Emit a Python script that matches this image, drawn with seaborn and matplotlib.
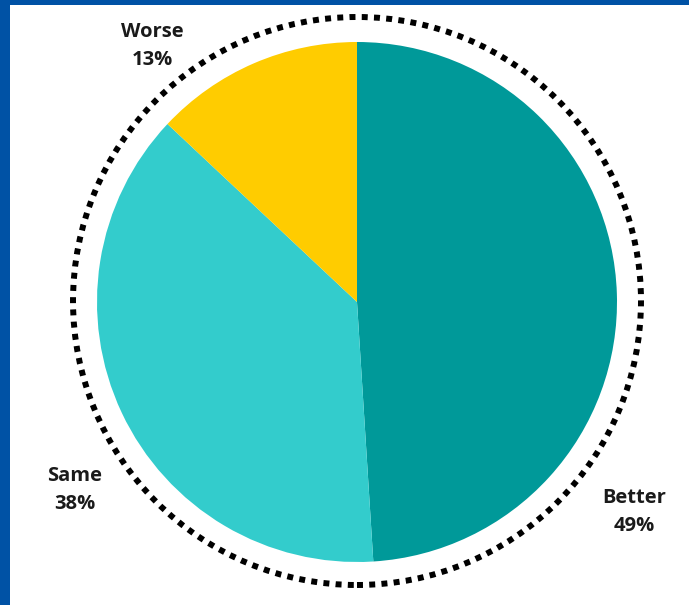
import matplotlib
matplotlib.use("Agg")
import matplotlib.pyplot as plt
import matplotlib.patches as mpatches
import seaborn as sns

labels = ["Better", "Same", "Worse"]
shares = [49, 38, 13]
colors = ["#009999", "#33cccc", "#ffcc00"]
# label centres in pixel coordinates (x from left, y from top)
label_pos = [(634, 512), (75, 490), (152, 46)]

sns.set_theme(style="white")
plt.rcParams["font.family"] = ["Open Sans", "DejaVu Sans"]

W, H = 689, 605
fig = plt.figure(figsize=(W / 100, H / 100), dpi=100)
fig.patch.set_facecolor("#0052a5")
ax = fig.add_axes([10 / W, 0, 1 - 10 / W, 1 - 5 / H])
ax.set_facecolor("white")

cx, cy = 357, H - 302
ax.pie(shares, colors=sns.color_palette(colors), startangle=90,
       counterclock=False, center=(cx, cy), radius=260,
       wedgeprops={"linewidth": 0}, frame=True)
ax.set_xlim(10, W)
ax.set_ylim(0, H - 5)
ax.set_aspect("equal")
ax.set_xticks([])
ax.set_yticks([])
for s in ax.spines.values():
    s.set_visible(False)

ring = mpatches.Circle((cx, H - 301), 284, fill=False, edgecolor="black",
                       linewidth=4.3, linestyle=(0, (1.0, 1.05)))
ring.set_capstyle("butt")
ax.add_patch(ring)

for name, val, (x, y) in zip(labels, shares, label_pos):
    ax.text(x, H - y, f"{name}\n{val}%", ha="center", va="center",
            fontsize=14.5, fontweight="bold", color="#1a1a1a", linespacing=1.55)

fig.savefig("out.png", dpi=100, facecolor=fig.get_facecolor())
